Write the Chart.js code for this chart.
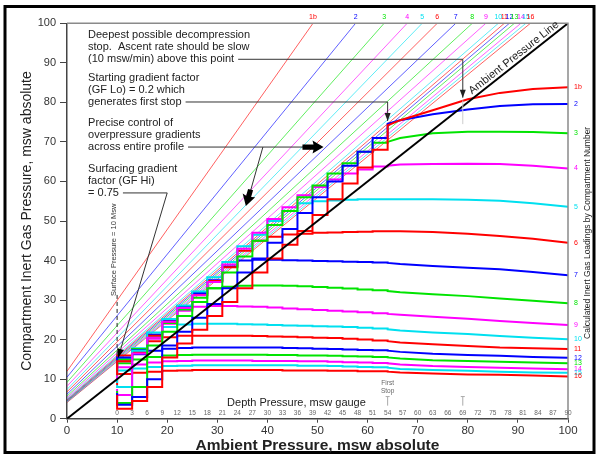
<!DOCTYPE html>
<html>
<head>
<meta charset="utf-8">
<script src="https://cdn.jsdelivr.net/npm/chart.js@4.4.1/dist/chart.umd.min.js"></script>
<style>
  html, body { margin: 0; padding: 0; background: #fff; }
  #wrap { width: 600px; height: 456px; }
</style>
</head>
<body>
<div id="wrap"><canvas id="chart" width="600" height="456"></canvas></div>
<script>
// compartment names and colours
const compartments = ['1b','2','3','4','5','6','7','8','9','10','11','12','13','14','15','16'];
const palette = ['#ff0000', '#0000ff', '#00e400', '#ff00ff', '#00e0f0'];

// M-value lines: value at 0 ambient and ambient where they hit 100
const mLineStart = [12.0, 10.5, 9.2, 8.2, 7.4, 6.8, 6.2, 5.7, 5.3, 5.0, 4.8, 4.6, 4.4, 4.3, 4.2, 4.1];
const mLineTopX  = [49.1, 57.6, 63.3, 67.9, 70.9, 73.9, 77.6, 80.9, 83.6, 86.1, 87.3, 88.3, 89.3, 90.6, 91.6, 92.5];

// ambient pressure line
const ambientX = [0, 100];
const ambientY = [0, 100];

// loadings during the ascent from the bottom to the first stop
const curveX = [100, 93, 86.4, 80, 73, 66.5];
const tailLoads = [
  [83.8, 83.4, 82.4, 80.8, 78.0, 75.5],
  [79.6, 79.5, 79.1, 78.2, 77.0, 75.5],
  [72.2, 72.5, 72.6, 72.6, 72.2, 71.0],
  [63.3, 64.0, 64.4, 64.5, 64.4, 64.3],
  [53.6, 54.5, 55.1, 55.4, 55.5, 55.5],
  [44.5, 45.5, 46.2, 46.8, 47.2, 47.4],
  [36.3, 37.1, 37.8, 38.2, 38.6, 39.1],
  [29.2, 29.8, 30.4, 31.0, 31.5, 32.0],
  [23.7, 24.2, 24.7, 25.3, 25.8, 26.3],
  [20.1, 20.5, 20.9, 21.4, 21.8, 22.3],
  [17.6, 17.8, 18.0, 18.4, 18.8, 19.3],
  [15.4, 15.6, 15.9, 16.1, 16.4, 16.9],
  [14.0, 14.2, 14.4, 14.6, 14.8, 15.2],
  [12.5, 12.7, 12.9, 13.1, 13.3, 13.7],
  [11.6, 11.7, 11.9, 12.1, 12.3, 12.6],
  [10.7, 10.9, 11.1, 11.2, 11.4, 11.7]
];

// stops (ambient, msw absolute); first value = arrival at first stop, then value leaving each stop
const stopX = [64, 61, 58, 55, 52, 49, 46, 43, 40, 37, 34, 31, 28, 25, 22, 19, 16, 13, 10];
const stopLoads = [
  [74.2, 68, 63.5, 59.5, 55.5, 51.5, 47.5, 44, 40.5, 37, 33, 29.5, 26, 22.5, 19, 15.5, 8, 4.5, 2.5, 6],
  [74.6, 71, 67.5, 64, 60, 56, 52, 48, 44.5, 40.5, 37, 33, 29, 25.5, 22, 18.5, 10, 5.5, 3.5, 6.5],
  [70, 69.8, 67.5, 64.6, 62, 59, 56, 52.5, 49, 45, 41, 37, 33, 29.5, 26, 22, 18.5, 8, 4, 7],
  [64, 63.8, 63, 62, 60.5, 58.6, 56.5, 53.5, 50.5, 47, 43, 39, 34.6, 31.2, 28, 24.5, 20.5, 16.5, 6, 7.5],
  [55.5, 55.5, 55.5, 55.4, 55.2, 55, 54.5, 52.5, 50, 46.5, 43.6, 39.6, 35.8, 32.2, 28.6, 25.2, 21.8, 17.2, 8, 8.5],
  [47.4, 47.4, 47.3, 47.2, 47.1, 47, 46.8, 46.6, 46, 45, 42.5, 38.3, 34.8, 31.3, 28, 24.5, 21, 16.8, 14.5, 11],
  [39.4, 39.5, 39.6, 39.7, 39.8, 39.9, 40, 40.1, 40.2, 40.2, 40, 38.5, 35, 31.8, 28.5, 24.8, 21.3, 17.3, 15.5, 12.5],
  [32.3, 32.5, 32.7, 32.9, 33.1, 33.3, 33.5, 33.6, 33.7, 33.7, 33.6, 33.4, 33, 30.6, 27.6, 24.2, 20.6, 17.6, 15, 12],
  [26.5, 26.7, 26.9, 27.1, 27.3, 27.5, 27.7, 27.9, 28.1, 28.3, 28.4, 28.5, 28.5, 28.3, 27.3, 24, 20.2, 17, 14.5, 11.5],
  [22.6, 22.8, 23, 23.2, 23.3, 23.4, 23.5, 23.6, 23.7, 23.8, 23.9, 24, 24, 24, 23.8, 23.2, 20.8, 17.8, 15.2, 11],
  [19.6, 19.8, 20, 20.2, 20.4, 20.5, 20.6, 20.7, 20.8, 20.9, 21, 21, 21, 21, 21, 20.6, 19.6, 17.2, 16, 13],
  [17.2, 17.3, 17.4, 17.5, 17.6, 17.7, 17.8, 17.9, 18, 18, 18, 18, 18, 18, 17.9, 17.7, 17.2, 16.3, 15, 12],
  [15.5, 15.6, 15.7, 15.8, 15.9, 16, 16, 16.1, 16.1, 16.2, 16.2, 16.2, 16.2, 16.2, 16.1, 16, 15.6, 15, 14, 11],
  [14, 14.1, 14.2, 14.3, 14.4, 14.5, 14.5, 14.6, 14.6, 14.6, 14.7, 14.7, 14.7, 14.7, 14.6, 14.5, 14.2, 13.7, 13, 10],
  [12.9, 13, 13.1, 13.2, 13.3, 13.4, 13.4, 13.5, 13.5, 13.5, 13.5, 13.5, 13.5, 13.5, 13.4, 13.3, 13.1, 12.7, 12.2, 9],
  [11.9, 12, 12, 12.1, 12.1, 12.2, 12.2, 12.2, 12.3, 12.3, 12.3, 12.3, 12.3, 12.3, 12.2, 12.1, 11.9, 11.6, 11.3, 8.5]
];

// depth gauge labels (msw gauge), drawn at gauge + 10 on the absolute axis
const depthTicks = [0,3,6,9,12,15,18,21,24,27,30,33,36,39,42,45,48,51,54,57,60,63,66,69,72,75,78,81,84,87,90];

const FONT = '"Liberation Sans", Arial, sans-serif';

function colorOf(i) { return palette[i % palette.length]; }

function fade(hex, a) {
   const n = parseInt(hex.slice(1), 16);
   return `rgba(${n >> 16},${(n >> 8) & 255},${n & 255},${a})`;
}

// build the staircase path of one compartment
function tissuePoints(c) {
   const pts = curveX.map((x, i) => ({ x: x, y: tailLoads[c][i] }));
   const v = stopLoads[c];
   pts.push({ x: stopX[0], y: v[0] });
   for (let k = 0; k < stopX.length; k++) {
      pts.push({ x: stopX[k], y: v[k + 1] });
      if (k + 1 < stopX.length) pts.push({ x: stopX[k + 1], y: v[k + 1] });
   }
   return pts;
}

const datasets = [];

datasets.push({
   data: ambientX.map((x, i) => ({ x: x, y: ambientY[i] })),
   borderColor: '#000',
   borderWidth: 2
});

compartments.forEach((name, c) => {
   datasets.push({
      data: tissuePoints(c),
      borderColor: colorOf(c),
      borderWidth: 2
   });
});

compartments.forEach((name, c) => {
   datasets.push({
      data: [{ x: 0, y: mLineStart[c] }, { x: mLineTopX[c], y: 100 }],
      borderColor: fade(colorOf(c), 0.7),
      borderWidth: 0.9
   });
});

// annotation text on the left
const noteLines = [
   ['Deepest possible decompression', 97.0],
   ['stop.  Ascent rate should be slow', 94.0],
   ['(10 msw/min) above this point', 90.9],
   ['Starting gradient factor', 86.2],
   ['(GF Lo) = 0.2 which', 83.1],
   ['generates first stop', 80.1],
   ['Precise control of', 74.8],
   ['overpressure gradients', 71.7],
   ['across entire profile', 68.7],
   ['Surfacing gradient', 63.2],
   ['factor (GF Hi)', 60.1],
   ['= 0.75', 57.1]
];

function smallHead(ctx, x0, y0, x1, y1, len, half) {
   const a = Math.atan2(y1 - y0, x1 - x0);
   ctx.beginPath();
   ctx.moveTo(x1, y1);
   ctx.lineTo(x1 - len * Math.cos(a) + half * Math.sin(a), y1 - len * Math.sin(a) - half * Math.cos(a));
   ctx.lineTo(x1 - len * Math.cos(a) - half * Math.sin(a), y1 - len * Math.sin(a) + half * Math.cos(a));
   ctx.closePath();
   ctx.fill();
}

function bigArrow(ctx, x0, y0, x1, y1) {
   const a = Math.atan2(y1 - y0, x1 - x0);
   const L = Math.hypot(x1 - x0, y1 - y0);
   const c = Math.cos(a), s = Math.sin(a);
   const P = (t, w) => [x0 + t * c - w * s, y0 + t * s + w * c];
   const pts = [P(0, -2.6), P(L - 10, -2.6), P(L - 11, -6.5), P(L, 0), P(L - 11, 6.5), P(L - 10, 2.6), P(0, 2.6)];
   ctx.beginPath();
   ctx.moveTo(pts[0][0], pts[0][1]);
   pts.slice(1).forEach(p => ctx.lineTo(p[0], p[1]));
   ctx.closePath();
   ctx.fill();
}

const notesPlugin = {
   id: 'notes',
   beforeDraw(chart) {
      const ctx = chart.ctx;
      ctx.save();
      ctx.fillStyle = '#fff';
      ctx.fillRect(0, 0, chart.width, chart.height);
      ctx.strokeStyle = '#000';
      ctx.lineWidth = 3;
      ctx.strokeRect(5, 6.5, 589, 446);
      ctx.restore();
   },
   afterDatasetsDraw(chart) {
      const { ctx, chartArea: area, scales } = chart;
      const px = v => scales.x.getPixelForValue(v);
      const py = v => scales.y.getPixelForValue(v);
      ctx.save();

      // top and right frame
      ctx.strokeStyle = '#8a8a8a';
      ctx.lineWidth = 1.5;
      ctx.beginPath();
      ctx.moveTo(area.left, area.top);
      ctx.lineTo(area.right, area.top);
      ctx.lineTo(area.right, area.bottom);
      ctx.stroke();

      // compartment numbers on M-value lines and on loading curves
      ctx.font = '7px ' + FONT;
      ctx.textBaseline = 'middle';
      compartments.forEach((name, c) => {
         ctx.fillStyle = colorOf(c);
         ctx.textAlign = 'center';
         ctx.fillText(name, px(mLineTopX[c]), area.top - 6);
         ctx.textAlign = 'left';
         ctx.fillText(name, area.right + 6, py(tailLoads[c][0]));
      });

      // annotation block
      ctx.fillStyle = '#222';
      ctx.strokeStyle = '#333';
      ctx.lineWidth = 1;
      ctx.font = '11px ' + FONT;
      ctx.textAlign = 'left';
      const tx = px(4.2);
      const ends = {};
      noteLines.forEach(([t, yv]) => {
         ctx.fillText(t, tx, py(yv));
         ends[yv] = tx + ctx.measureText(t).width + 4;
      });

      const lead = (pts) => {
         ctx.beginPath();
         ctx.moveTo(pts[0][0], pts[0][1]);
         pts.slice(1).forEach(p => ctx.lineTo(p[0], p[1]));
         ctx.stroke();
      };

      // deepest stop leader
      lead([[ends[90.9], py(90.9)], [px(79), py(90.9)], [px(79), py(81.2)]]);
      smallHead(ctx, px(79), py(84), px(79), py(81.2), 8, 3);
      // first stop leader
      lead([[ends[80.1], py(80.1)], [px(64), py(80.1)], [px(64), py(75.3)]]);
      smallHead(ctx, px(64), py(78), px(64), py(75.3), 8, 3);
      // overpressure gradients leaders
      lead([[ends[68.7], py(68.7)], [px(47.2), py(68.7)]]);
      ctx.fillStyle = '#000';
      bigArrow(ctx, px(47.0), py(68.7), px(51.2), py(68.7));
      lead([[px(39.1), py(68.7)], [px(36.2), py(55.7)]]);
      {
         const x1 = px(35.7), y1 = py(53.8), x0 = px(39.1), y0 = py(68.7);
         const L = Math.hypot(x1 - x0, y1 - y0);
         bigArrow(ctx, x1 - (x1 - x0) * 17 / L, y1 - (y1 - y0) * 17 / L, x1, y1);
      }
      // surfacing gradient leader
      ctx.fillStyle = '#222';
      lead([[ends[57.1], py(57.1)], [px(20), py(57.1)], [px(10.2), py(15.4)]]);
      ctx.fillStyle = '#000';
      smallHead(ctx, px(11), py(19), px(10.2), py(15.4), 9, 3.5);

      // surface pressure marker
      ctx.setLineDash([4, 3]);
      ctx.strokeStyle = '#222';
      lead([[px(10), py(31.3)], [px(10), py(16)]]);
      ctx.setLineDash([]);
      ctx.fillStyle = '#333';
      ctx.font = '7.5px ' + FONT;
      ctx.save();
      ctx.translate(px(9.4), py(42.7));
      ctx.rotate(-Math.PI / 2);
      ctx.textAlign = 'center';
      ctx.fillText('Surface Pressure = 10 Msw', 0, 0);
      ctx.restore();

      // ambient line label
      ctx.save();
      const ang = Math.atan2(py(100) - py(0), px(100) - px(0));
      ctx.translate(px(89.2), py(91.3));
      ctx.rotate(ang);
      ctx.font = '11px ' + FONT;
      ctx.fillStyle = '#222';
      ctx.textAlign = 'center';
      ctx.fillText('Ambient Pressure Line', 0, 0);
      ctx.restore();

      // depth gauge scale
      ctx.fillStyle = '#222';
      ctx.font = '11px ' + FONT;
      ctx.textAlign = 'center';
      ctx.fillText('Depth Pressure, msw gauge', px(45.8), py(3.9));
      ctx.fillStyle = '#666';
      ctx.font = '6.5px ' + FONT;
      depthTicks.forEach(d => ctx.fillText(String(d), px(d + 10), py(1.4)));

      // first stop and deepest stop markers
      ctx.fillText('First', px(64), py(9.0));
      ctx.fillText('Stop', px(64), py(7.0));
      ctx.strokeStyle = '#aaa';
      [64, 79].forEach(m => {
         lead([[px(m), py(3.3)], [px(m), py(5.6)]]);
         lead([[px(m) - 2, py(5.6)], [px(m) + 2, py(5.6)]]);
      });
      ctx.strokeStyle = '#ccc';
      lead([[px(79), py(80.5)], [px(79), py(74.5)]]);

      // right hand title
      ctx.save();
      ctx.translate(area.right + 20, py(47));
      ctx.rotate(-Math.PI / 2);
      ctx.font = '8.5px ' + FONT;
      ctx.fillStyle = '#222';
      ctx.textAlign = 'center';
      ctx.fillText('Calculated Inert Gas Loadings by Compartment Number', 0, 0);
      ctx.restore();

      ctx.restore();
   }
};

new Chart(document.getElementById('chart'), {
   type: 'scatter',
   data: { datasets: datasets },
   plugins: [notesPlugin],
   options: {
      responsive: false,
      animation: false,
      devicePixelRatio: 1,
      showLine: true,
      layout: { padding: { left: 0, right: 32, top: 23.3, bottom: 0 } },
      elements: {
         point: { radius: 0, hoverRadius: 0 },
         line: { tension: 0, fill: false }
      },
      plugins: {
         legend: { display: false },
         tooltip: { enabled: false }
      },
      scales: {
         x: {
            type: 'linear',
            min: 0,
            max: 100,
            afterFit: s => { s.height = 37.3; },
            ticks: { stepSize: 10, padding: 1, color: '#333', font: { size: 11.5, family: FONT } },
            grid: { drawOnChartArea: false, tickLength: 4, color: '#444' },
            border: { color: '#444', width: 1.5 },
            title: {
               display: true,
               text: 'Ambient Pressure, msw absolute',
               color: '#222',
               font: { size: 15.5, weight: 'bold', family: FONT },
               padding: { top: 0, bottom: 1 }
            }
         },
         y: {
            type: 'linear',
            min: 0,
            max: 100,
            afterFit: s => { s.width = 67; },
            ticks: { stepSize: 10, padding: 4, color: '#333', font: { size: 11, family: FONT } },
            grid: { drawOnChartArea: false, tickLength: 7, color: '#444' },
            border: { color: '#444', width: 1.5 },
            title: {
               display: true,
               text: 'Compartment Inert Gas Pressure, msw absolute',
               color: '#222',
               font: { size: 14, family: FONT },
               padding: { top: 18.5, bottom: 0 }
            }
         }
      }
   }
});
</script>
</body>
</html>
